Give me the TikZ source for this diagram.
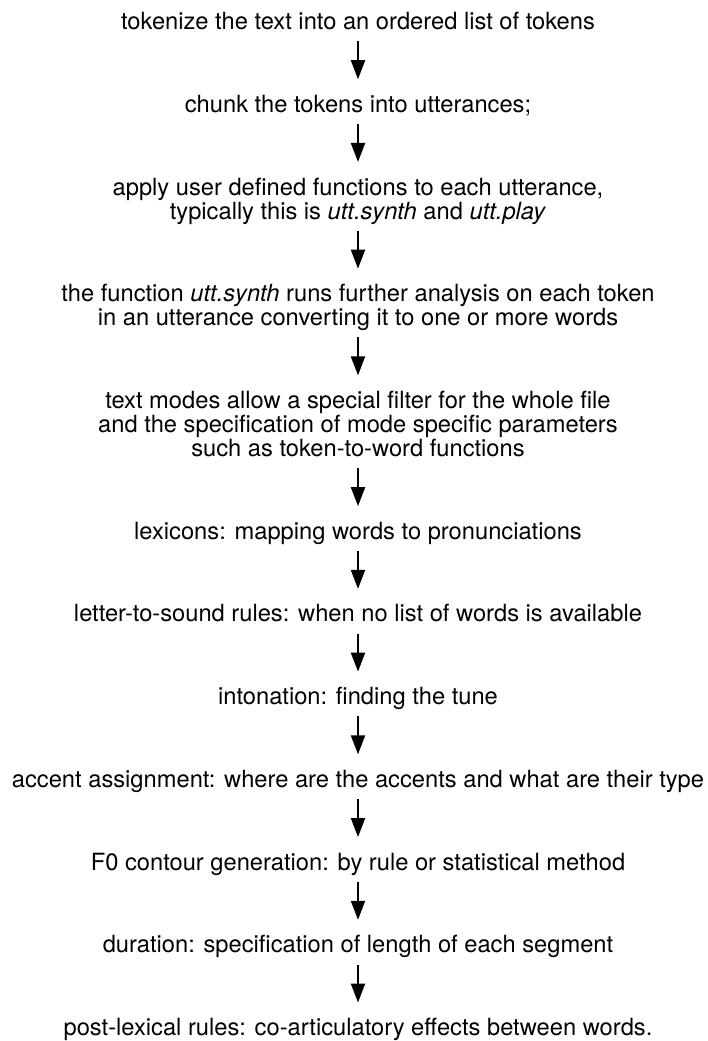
\documentclass[tikz,border=0pt]{standalone}
\usepackage{fontspec}
\setmainfont{TeX Gyre Heros}
\usetikzlibrary{arrows.meta}
\tikzset{
  stage/.style={anchor=north, inner sep=0pt, outer sep=0pt, align=center,
    font=\fontsize{23.7}{24}\selectfont,
    execute at begin node=\strut, execute at end node=\strut},
  flow/.style={line width=2pt, -{Triangle[length=19pt,width=14pt]},
    shorten <=4.5pt, shorten >=15.7pt}
}
\begin{document}
\begin{tikzpicture}[x=1pt,y=-1pt]
\useasboundingbox (0,0) rectangle (708,1041);
% node tops sit 16.8pt above the first baseline
\node[stage] (s1)  at (358, 12.2)   {tokenize the text into an ordered list of tokens};
\node[stage] (s2)  at (358, 94.93)  {chunk the tokens into utterances;};
\node[stage] (s3)  at (358, 177.65) {apply user defined functions to each utterance,\\
  typically this is \textit{utt.synth} and \textit{utt.play}};
\node[stage] (s4)  at (358, 284.38) {the function \textit{utt.synth} runs further analysis on each token\\
  in an utterance converting it to one or more words};
\node[stage] (s5)  at (358, 391.11) {text modes allow a special filter for the whole file\\
  and the specification of mode specific parameters\\
  such as token-to-word functions};
\node[stage] (s6)  at (358, 521.84) {lexicons: mapping words to pronunciations};
\node[stage] (s7)  at (358, 604.56) {letter-to-sound rules: when no list of words is available};
\node[stage] (s8)  at (358, 687.29) {intonation: finding the tune};
\node[stage] (s9)  at (358, 770.02) {accent assignment: where are the accents and what are their type};
\node[stage] (s10) at (358, 852.75) {F0 contour generation: by rule or statistical method};
\node[stage] (s11) at (358, 935.47) {duration: specification of length of each segment};
\node[stage] (s12) at (358, 1018.2) {post-lexical rules: co-articulatory effects between words.};
\foreach \a/\b in {s1/s2,s2/s3,s3/s4,s4/s5,s5/s6,s6/s7,s7/s8,s8/s9,s9/s10,s10/s11,s11/s12}
  \draw[flow] (\a) -- (\b);
\end{tikzpicture}
\end{document}
